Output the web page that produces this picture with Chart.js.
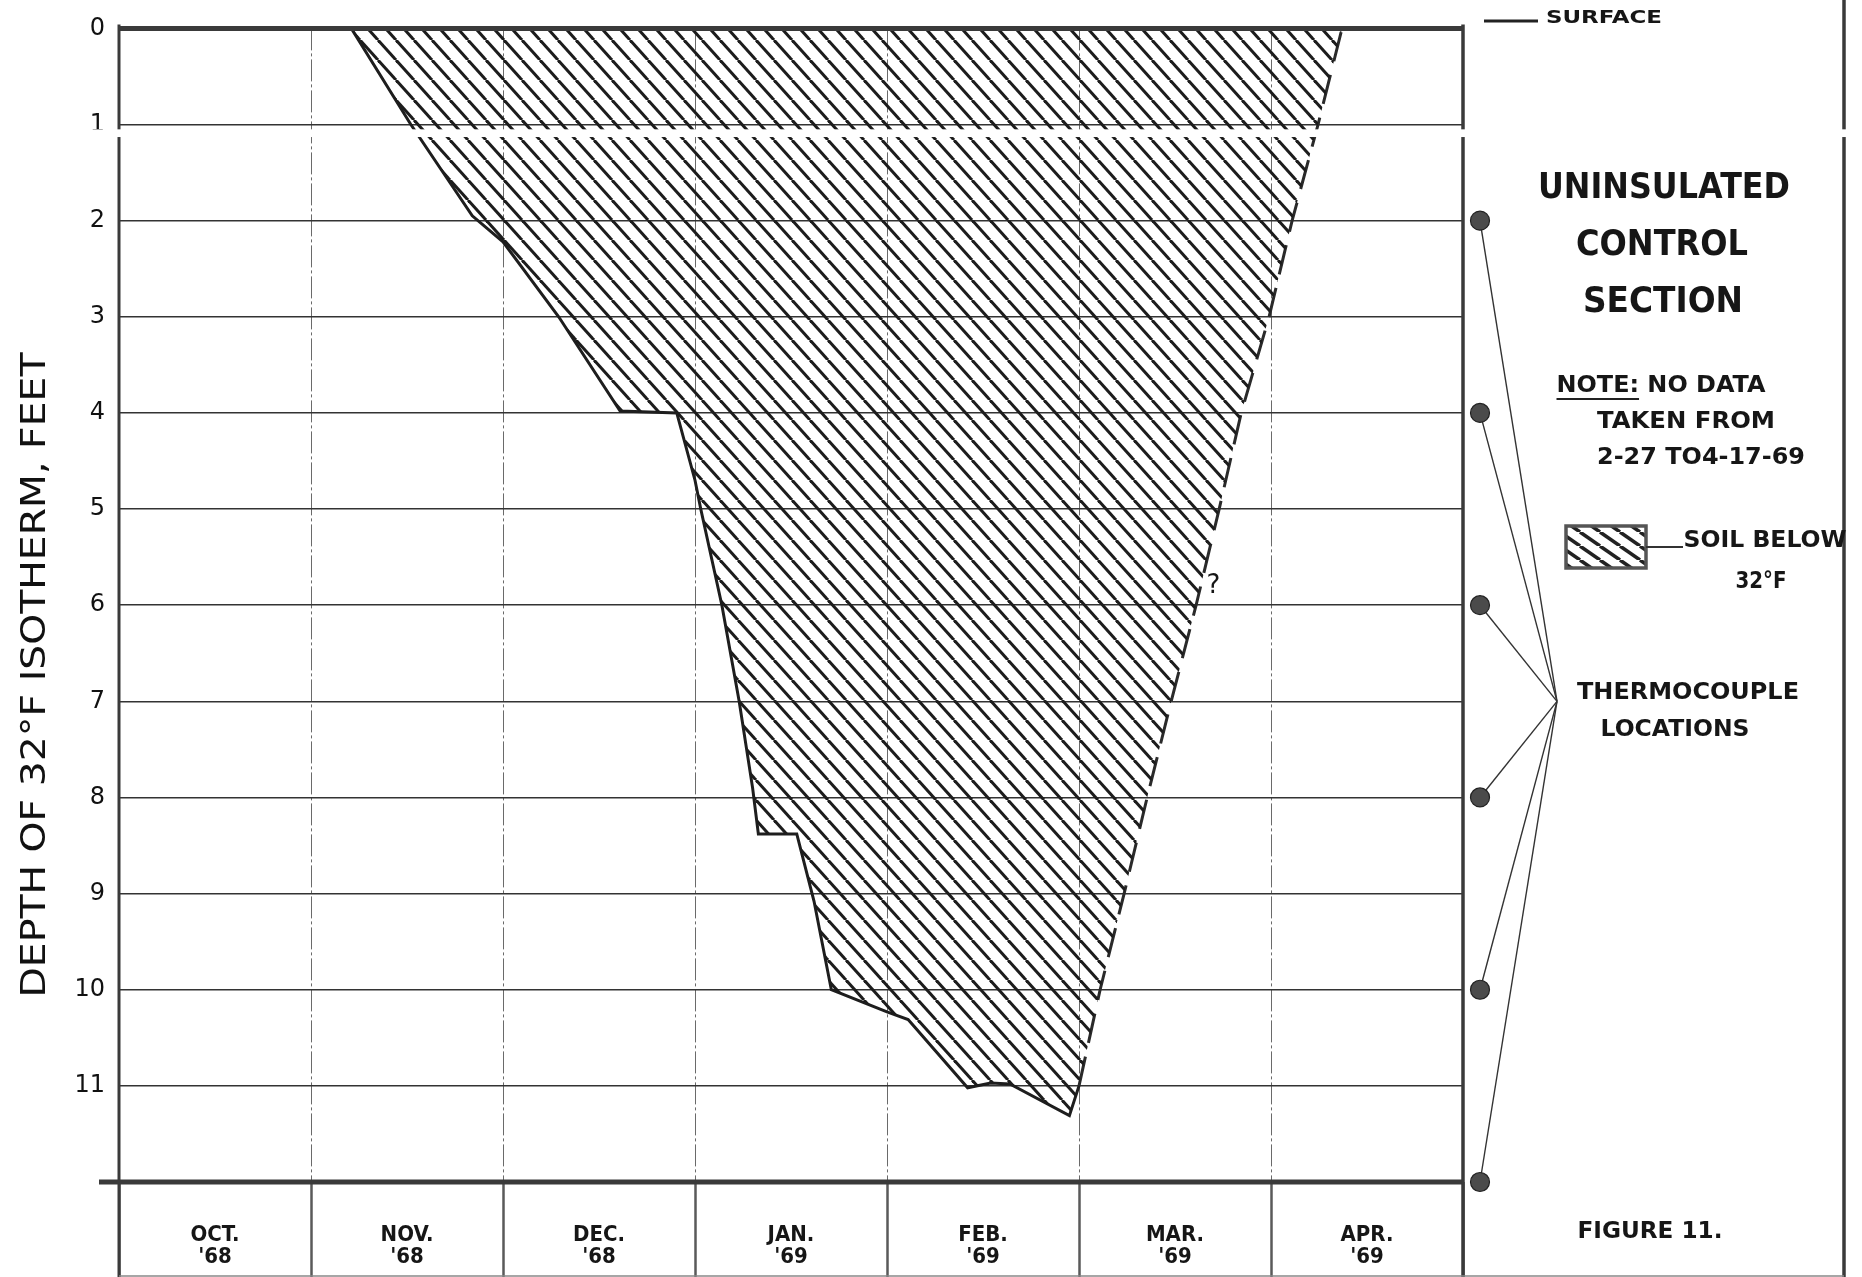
<!DOCTYPE html>
<html>
<head>
<meta charset="utf-8">
<script src="https://cdn.jsdelivr.net/npm/chart.js@4.4.1/dist/chart.umd.min.js"></script>
<style>
  html, body { margin: 0; padding: 0; background: #fff; }
  canvas { display: block; }
</style>
</head>
<body>
<canvas id="chart" width="1862" height="1277"></canvas>
<script>
// ---------- data (x = months after Oct 1 1968, y = depth in feet) ----------
const monthNames = ['OCT.', 'NOV.', 'DEC.', 'JAN.', 'FEB.', 'MAR.', 'APR.'];
const monthYears = ["'68", "'68", "'68", "'69", "'69", "'69", "'69"];
const depthTicks = [0, 1, 2, 3, 4, 5, 6, 7, 8, 9, 10, 11];

// freezing front, drawn solid
const freezeX = [1.21, 1.52, 1.84, 2.00, 2.29, 2.61, 2.905, 3.00, 3.03, 3.14, 3.23, 3.30, 3.33, 3.53, 3.62, 3.71, 4.00, 4.11, 4.42, 4.54, 4.64, 4.95, 5.00];
const freezeY = [0, 1.0, 1.95, 2.22, 3.0, 3.98, 4.0, 4.7, 5.0, 6.0, 7.0, 7.9, 8.38, 8.38, 9.08, 10.0, 10.23, 10.31, 11.02, 10.97, 10.98, 11.31, 11.0];
// thaw front, dashed (no data 2-27 to 4-17-69)
const thawX = [5.00, 5.11, 5.235, 5.355, 5.48, 5.61, 5.73, 5.845, 5.99, 6.11, 6.245, 6.37];
const thawY = [11, 10, 9, 8, 7, 6, 5, 4, 3, 2, 1, 0];
const thermoDepths = [2, 4, 6, 8, 10, 12];
const hubDepth = 7;

const FONT = '"DejaVu Sans", "Liberation Sans", sans-serif';
const NARROW = '"DejaVu Sans Condensed", "Liberation Sans Narrow", "DejaVu Sans", sans-serif';

const pts = (xs, ys) => xs.map((x, i) => ({ x, y: ys[i] }));
const freezePts = pts(freezeX, freezeY);
const thawPts = pts(thawX, thawY);
const frozenPts = freezePts.concat(thawPts);

// diagonal hatch tile, lines run top-left -> bottom-right
function makeHatch(w, h, lw, color) {
  const c = document.createElement('canvas');
  c.width = w; c.height = h;
  const g = c.getContext('2d');
  g.strokeStyle = color; g.lineWidth = lw;
  for (let k = -1; k <= 1; k++) {
    g.beginPath(); g.moveTo(k * w, 0); g.lineTo(k * w + w, h); g.stroke();
  }
  return document.createElement('canvas').getContext('2d').createPattern(c, 'repeat');
}
const hatch = makeHatch(18, 20, 3, '#1c1c1c');
const hatchKey = makeHatch(20, 14, 3.5, '#222');

// text squeezed/stretched to a measured width
function label(ctx, str, cx, cy, size, width, weight) {
  ctx.save();
  ctx.font = (weight || 'bold') + ' ' + size + 'px ' + FONT;
  const w = ctx.measureText(str).width;
  const k = width ? width / w : 1;
  ctx.translate(cx, cy);
  ctx.scale(k, 1);
  ctx.textAlign = 'center';
  ctx.textBaseline = 'middle';
  ctx.fillStyle = '#161616';
  ctx.fillText(str, 0, 0);
  ctx.restore();
  return k;
}
function line(ctx, x1, y1, x2, y2, lw, color) {
  ctx.save();
  ctx.strokeStyle = color; ctx.lineWidth = lw;
  ctx.beginPath(); ctx.moveTo(x1, y1); ctx.lineTo(x2, y2); ctx.stroke();
  ctx.restore();
}

// ---------- frame, side panel, annotations ----------
const panel = {
  id: 'panel',
  afterDraw(chart) {
    const { ctx, chartArea: a, scales: { x, y } } = chart;
    const H = chart.height, W = chart.width;
    const frame = '#3a3a3a';

    // plot frame
    line(ctx, a.left, a.top, a.right, a.top, 5, frame);
    line(ctx, a.left - 20, a.bottom, a.right, a.bottom, 5, frame);
    line(ctx, a.left, a.top - 4, a.left, H, 3, frame);
    line(ctx, a.right, a.top - 4, a.right, H, 3.5, frame);
    line(ctx, W - 18, 0, W - 18, H, 3.5, frame);
    line(ctx, a.left, H - 1, W - 18, H - 1, 1.5, '#888');

    // y axis title
    ctx.save();
    ctx.translate(36, 675);
    ctx.rotate(-Math.PI / 2);
    ctx.font = '33px ' + FONT;
    const t = 'DEPTH OF 32°F ISOTHERM, FEET';
    const k = 645 / ctx.measureText(t).width;
    ctx.scale(k, 1);
    ctx.textAlign = 'center'; ctx.textBaseline = 'middle';
    ctx.fillStyle = '#111';
    ctx.fillText(t, 0, 0);
    ctx.restore();

    // surface marker
    line(ctx, a.right + 21, 21, a.right + 75, 21, 3, '#222');
    label(ctx, 'SURFACE', 1604, 18, 18, 116);

    // section title + note
    label(ctx, 'UNINSULATED', 1664, 189, 35, 252);
    label(ctx, 'CONTROL', 1662, 246, 35, 172);
    label(ctx, 'SECTION', 1663, 303, 35, 160);
    const kn = label(ctx, 'NOTE: NO DATA', 1661, 386, 23, 209);
    ctx.font = 'bold 23px ' + FONT;
    const uw = ctx.measureText('NOTE:').width * kn;
    line(ctx, 1661 - 209 / 2, 399, 1661 - 209 / 2 + uw, 399, 2, '#222');
    label(ctx, 'TAKEN FROM', 1686, 422, 23, 178);
    label(ctx, '2-27 TO4-17-69', 1701, 458, 23, 208);

    // hatch key
    ctx.save();
    ctx.fillStyle = hatchKey;
    ctx.fillRect(1566, 526, 80, 42);
    ctx.strokeStyle = '#555'; ctx.lineWidth = 3.5;
    ctx.strokeRect(1566, 526, 80, 42);
    ctx.restore();
    line(ctx, 1646, 547, 1683, 547, 2, '#333');
    label(ctx, 'SOIL BELOW', 1765, 541, 23, 163);
    label(ctx, '32°F', 1761, 582, 23, 51);

    // thermocouple locations
    const dotX = a.right + 17, hubX = a.right + 94, hubY = y.getPixelForValue(hubDepth);
    thermoDepths.forEach(d => {
      const dy = y.getPixelForValue(d);
      line(ctx, dotX, dy, hubX, hubY, 1.4, '#333');
    });
    thermoDepths.forEach(d => {
      const dy = y.getPixelForValue(d);
      ctx.save();
      ctx.beginPath(); ctx.arc(dotX, dy, 9.5, 0, Math.PI * 2);
      ctx.fillStyle = '#4b4b4b'; ctx.fill();
      ctx.lineWidth = 1.2; ctx.strokeStyle = '#222'; ctx.stroke();
      ctx.restore();
    });
    label(ctx, 'THERMOCOUPLE', 1688, 693, 23, 222);
    label(ctx, 'LOCATIONS', 1675, 730, 23, 149);
    label(ctx, 'FIGURE 11.', 1650, 1232, 23, 145);

    // uncertain thaw depth
    label(ctx, '?', x.getPixelForValue(5.70), y.getPixelForValue(5.8), 26, 0, 'normal');

    // scan seam across the sheet
    ctx.save();
    ctx.fillStyle = '#fff';
    ctx.fillRect(0, y.getPixelForValue(1.05), W, y.getPixelForValue(1.13) - y.getPixelForValue(1.05));
    ctx.restore();
  }
};

new Chart(document.getElementById('chart'), {
  type: 'line',
  data: {
    datasets: [
      { label: 'Soil below 32°F', data: frozenPts, fill: 'shape', backgroundColor: hatch,
        borderWidth: 0, pointRadius: 0, tension: 0 },
      { label: 'Freezing front', data: freezePts, fill: false, borderColor: '#1e1e1e',
        borderWidth: 3, pointRadius: 0, tension: 0 },
      { label: 'Thaw front', data: thawPts, fill: false, borderColor: '#2a2a2a',
        borderWidth: 3, borderDash: [30, 14], pointRadius: 0, tension: 0 }
    ]
  },
  options: {
    responsive: false,
    animation: false,
    devicePixelRatio: 1,
    layout: { padding: { top: 26, right: 399, bottom: 0, left: 0 } },
    plugins: { legend: { display: false }, tooltip: { enabled: false } },
    scales: {
      x: {
        type: 'linear', min: 0, max: 7,
        afterBuildTicks: s => { s.ticks = monthNames.map((_, i) => ({ value: i + 0.5 })); },
        afterFit: s => { s.height = 95; },
        grid: { offset: true, color: '#6a6a6a', lineWidth: 1, tickLength: 95,
                tickColor: '#5a5a5a', tickWidth: 2.5, tickBorderDash: [] },
        border: { display: false, dash: [22, 3, 3, 3] },
        ticks: { autoSkip: false, maxRotation: 0, minRotation: 0, padding: -53, color: '#161616',
                 font: { family: NARROW, size: 22, weight: 'bold', lineHeight: 1.0 },
                 callback: (v, i) => [monthNames[i], monthYears[i]] }
      },
      y: {
        type: 'linear', reverse: true, min: 0, max: 12,
        afterBuildTicks: s => { s.ticks = depthTicks.map(v => ({ value: v })); },
        afterFit: s => { s.width = 119; },
        grid: { color: '#333', lineWidth: 1.6, drawTicks: false },
        border: { display: false },
        ticks: { padding: 14, color: '#111', font: { family: FONT, size: 24 },
                 callback: v => String(v) }
      }
    }
  },
  plugins: [panel]
});
</script>
</body>
</html>
